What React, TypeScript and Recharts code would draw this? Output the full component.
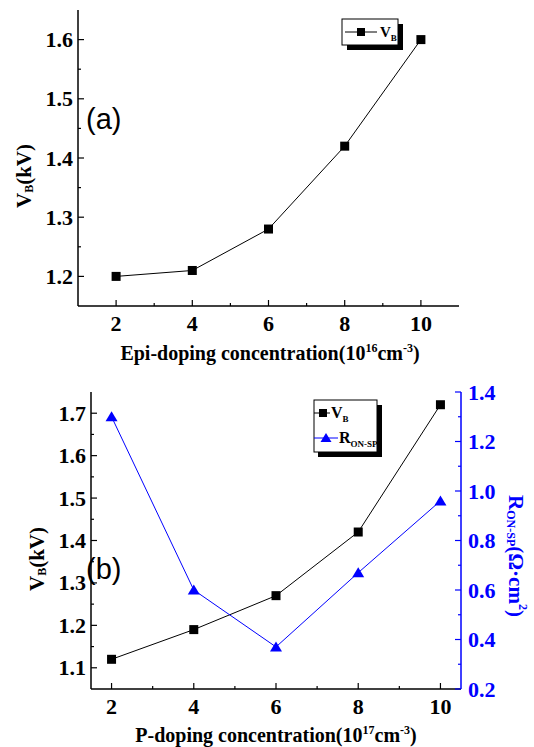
import { LineChart, Line, XAxis, YAxis } from "recharts"

// panel (a): breakdown voltage vs epi doping
const epiDoping = [2, 4, 6, 8, 10]
const vbEpi = [1.2, 1.21, 1.28, 1.42, 1.6]

// panel (b): breakdown voltage and specific on-resistance vs P doping
const pDoping = [2, 4, 6, 8, 10]
const vbP = [1.12, 1.19, 1.27, 1.42, 1.72]
const ronP = [1.3, 0.6, 0.37, 0.67, 0.96]

const xMajor = [2, 4, 6, 8, 10]
const xMinor = [3, 5, 7, 9]
const yMajorA = [1.2, 1.3, 1.4, 1.5, 1.6]
const yMinorA = [1.25, 1.35, 1.45, 1.55]
const yMajorB = [1.1, 1.2, 1.3, 1.4, 1.5, 1.6, 1.7]
const yMinorB = [1.15, 1.25, 1.35, 1.45, 1.55, 1.65]
const rMajor = [0.2, 0.4, 0.6, 0.8, 1.0, 1.2, 1.4]
const rMinor = [0.3, 0.5, 0.7, 0.9, 1.1, 1.3]

const dataA = epiDoping.map((x, i) => ({ x, vb: vbEpi[i] }))
const dataB = pDoping.map((x, i) => ({ x, vb: vbP[i], r: ronP[i] }))

const SERIF = "'Liberation Serif', 'Times New Roman', 'DejaVu Serif', serif"
const SANS = "'Liberation Sans', Arial, sans-serif"
const BLUE = "#0000ff"
const serifStyle = { fontFamily: SERIF, fontWeight: 700 }

type Side = "bottom" | "top" | "left" | "right"

// ticks point inward; labels only on major ticks
const makeTick =
  (side: Side, majors: number[], color: string, labels: boolean, digits = 0) =>
  (props: any) => {
    const { x, y, payload } = props
    const v = payload.value
    const major = majors.includes(v)
    const len = major ? 6 : 3
    const txt = labels && major ? (digits ? v.toFixed(digits) : String(v)) : null
    const st = { ...serifStyle, fontSize: 22, fill: color }
    if (side === "bottom")
      return (
        <g>
          <line x1={x} x2={x} y1={y} y2={y - len} stroke="#000" strokeWidth={1.2} />
          {txt && <text x={x} y={y + 25} textAnchor="middle" style={st}>{txt}</text>}
        </g>
      )
    if (side === "top")
      return (
        <g>
          <line x1={x} x2={x} y1={y} y2={y + len} stroke="#000" strokeWidth={1.2} />
        </g>
      )
    if (side === "left")
      return (
        <g>
          <line x1={x} x2={x + len} y1={y} y2={y} stroke="#000" strokeWidth={1.2} />
          {txt && <text x={x - 5} y={y + 7.5} textAnchor="end" style={st}>{txt}</text>}
        </g>
      )
    return (
      <g>
        <line x1={x} x2={x - len} y1={y} y2={y} stroke={color} strokeWidth={1.2} />
        {txt && <text x={x + 7} y={y + 7.5} textAnchor="start" style={st}>{txt}</text>}
      </g>
    )
  }

const SquareDot = (p: any) => {
  if (p.cx == null || p.cy == null) return <g key={p.key} />
  return <rect key={p.key} x={p.cx - 4.5} y={p.cy - 4.5} width={9} height={9} fill="#000" />
}

const TriangleDot = (p: any) => {
  if (p.cx == null || p.cy == null) return <g key={p.key} />
  const { cx, cy } = p
  return <path key={p.key} d={`M${cx},${cy - 5.5} L${cx + 6},${cy + 4.5} L${cx - 6},${cy + 4.5} Z`} fill={BLUE} />
}

const axisLine = { stroke: "#000", strokeWidth: 1.5 }

function PanelA() {
  const xTicks = [...xMajor, ...xMinor]
  const yTicks = [...yMajorA, ...yMinorA]
  return (
    <LineChart width={534} height={380} data={dataA} margin={{ top: 10, right: 75, left: 0, bottom: 44 }}>
      <XAxis dataKey="x" type="number" domain={[1, 11]} allowDataOverflow ticks={xTicks} interval={0}
        height={30} tickSize={0} tickMargin={0} tickLine={false} axisLine={axisLine}
        tick={makeTick("bottom", xMajor, "#000", true)} />
      <XAxis xAxisId="top" orientation="top" type="number" domain={[1, 11]} allowDataOverflow ticks={xTicks}
        interval={0} height={0} tickSize={0} tickMargin={0} tickLine={false} axisLine={axisLine}
        tick={makeTick("top", xMajor, "#000", false)} />
      <YAxis type="number" domain={[1.15, 1.65]} allowDataOverflow ticks={yTicks} interval={0} width={78}
        tickSize={0} tickMargin={0} tickLine={false} axisLine={axisLine}
        tick={makeTick("left", yMajorA, "#000", true, 1)} />
      <YAxis yAxisId="right" orientation="right" type="number" domain={[1.15, 1.65]} allowDataOverflow
        ticks={yTicks} interval={0} width={0} tickSize={0} tickMargin={0} tickLine={false} axisLine={axisLine}
        tick={makeTick("right", yMajorA, "#000", false)} />
      <Line dataKey="vb" stroke="#000" strokeWidth={1} dot={SquareDot} isAnimationActive={false} />
    </LineChart>
  )
}

function PanelB() {
  const xTicks = [...xMajor, ...xMinor]
  return (
    <LineChart width={534} height={367} data={dataB} margin={{ top: 12, right: 0, left: 0, bottom: 28 }}>
      <XAxis dataKey="x" type="number" domain={[1.5, 10.5]} allowDataOverflow ticks={xTicks} interval={0}
        height={30} tickSize={0} tickMargin={0} tickLine={false} axisLine={axisLine}
        tick={makeTick("bottom", xMajor, "#000", true)} />
      <XAxis xAxisId="top" orientation="top" type="number" domain={[1.5, 10.5]} allowDataOverflow
        ticks={xTicks} interval={0} height={0} tickSize={0} tickMargin={0} tickLine={false} axisLine={axisLine}
        tick={makeTick("top", xMajor, "#000", false)} />
      <YAxis yAxisId="left" type="number" domain={[1.05, 1.75]} allowDataOverflow
        ticks={[...yMajorB, ...yMinorB]} interval={0} width={91} tickSize={0} tickMargin={0} tickLine={false}
        axisLine={axisLine} tick={makeTick("left", yMajorB, "#000", true, 1)} />
      <YAxis yAxisId="right" orientation="right" type="number" domain={[0.2, 1.4]} allowDataOverflow
        ticks={[...rMajor, ...rMinor]} interval={0} width={73} tickSize={0} tickMargin={0} tickLine={false}
        axisLine={{ stroke: BLUE, strokeWidth: 1.5 }} tick={makeTick("right", rMajor, BLUE, true, 1)} />
      <Line yAxisId="left" dataKey="vb" stroke="#000" strokeWidth={1} dot={SquareDot} isAnimationActive={false} />
      <Line yAxisId="right" dataKey="r" stroke={BLUE} strokeWidth={1} dot={TriangleDot} isAnimationActive={false} />
    </LineChart>
  )
}

// titles, panel letters and legends
function Overlay() {
  const s = (size: number, fill = "#000") => ({ ...serifStyle, fontSize: size, fill })
  return (
    <svg width={534} height={747} style={{ position: "absolute", left: 0, top: 0, pointerEvents: "none" }}>
      {/* panel (a) */}
      <text x={86} y={129} style={{ fontFamily: SANS, fontSize: 29 }}>(a)</text>
      <text x={270} y={360} textAnchor="middle" style={s(20)}>
        Epi-doping concentration(10<tspan dy={-8} style={{ fontSize: 12 }}>16</tspan>
        <tspan dy={8}>cm</tspan><tspan dy={-8} style={{ fontSize: 12 }}>-3</tspan><tspan dy={8}>)</tspan>
      </text>
      <text x={24} y={176} textAnchor="middle" transform="rotate(-90 24 176)" dominantBaseline="central" style={s(21)}>
        V<tspan dy={5} style={{ fontSize: 12 }}>B</tspan><tspan dy={-5}>(kV)</tspan>
      </text>
      <rect x={347} y={24} width={56} height={26} fill="#000" />
      <rect x={342} y={19} width={56} height={26} fill="#fff" stroke="#000" strokeWidth={1} />
      <line x1={345} x2={377} y1={32} y2={32} stroke="#000" strokeWidth={1} />
      <rect x={357} y={28} width={8} height={8} fill="#000" />
      <text x={380} y={37} style={s(15)}>V<tspan dy={4} style={{ fontSize: 9 }}>B</tspan></text>

      {/* panel (b) */}
      <text x={86} y={579} style={{ fontFamily: SANS, fontSize: 29 }}>(b)</text>
      <text x={276} y={742} textAnchor="middle" style={s(20)}>
        P-doping concentration(10<tspan dy={-8} style={{ fontSize: 12 }}>17</tspan>
        <tspan dy={8}>cm</tspan><tspan dy={-8} style={{ fontSize: 12 }}>-3</tspan><tspan dy={8}>)</tspan>
      </text>
      <text x={37} y={559} textAnchor="middle" transform="rotate(-90 37 559)" dominantBaseline="central" style={s(21)}>
        V<tspan dy={5} style={{ fontSize: 12 }}>B</tspan><tspan dy={-5}>(kV)</tspan>
      </text>
      <text x={516} y={556} textAnchor="middle" transform="rotate(90 516 556)" dominantBaseline="central" style={s(21, BLUE)}>
        R<tspan dy={5} style={{ fontSize: 12 }}>ON-SP</tspan><tspan dy={-5}>(Ω·cm</tspan>
        <tspan dy={-7} style={{ fontSize: 12 }}>2</tspan><tspan dy={7}>)</tspan>
      </text>
      <rect x={318} y={405} width={64} height={52} fill="#000" />
      <rect x={314} y={400} width={63} height={52} fill="#fff" stroke="#000" strokeWidth={1} />
      <line x1={314} x2={330} y1={413} y2={413} stroke="#000" strokeWidth={1} />
      <rect x={319} y={409} width={8} height={8} fill="#000" />
      <text x={331} y={418} style={s(16)}>V<tspan dy={4} style={{ fontSize: 9 }}>B</tspan></text>
      <line x1={314} x2={338} y1={438} y2={438} stroke={BLUE} strokeWidth={1} />
      <path d="M326,433 L331.5,442 L320.5,442 Z" fill={BLUE} />
      <text x={339} y={443} style={s(16)}>R<tspan dy={4} style={{ fontSize: 9 }}>ON-SP</tspan></text>
    </svg>
  )
}

export default function App() {
  return (
    <div style={{ position: "absolute", left: 0, top: 0, width: 534, height: 747, background: "#fff", overflow: "hidden" }}>
      <div style={{ position: "absolute", left: 0, top: 0 }}>
        <PanelA />
      </div>
      <div style={{ position: "absolute", left: 0, top: 380 }}>
        <PanelB />
      </div>
      <Overlay />
    </div>
  )
}
